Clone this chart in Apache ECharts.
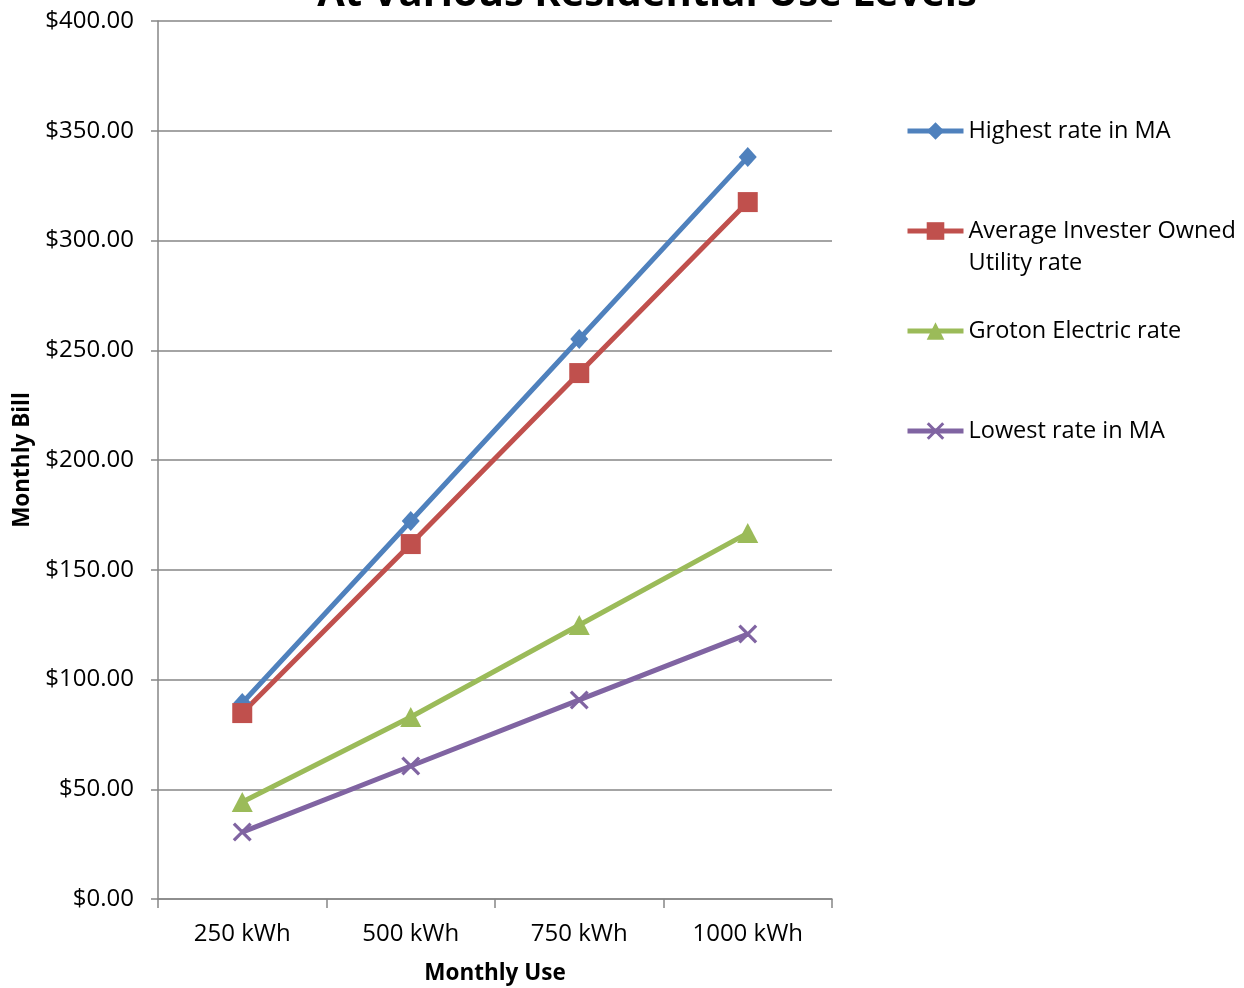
<!DOCTYPE html>
<html>
<head>
<meta charset="utf-8">
<script src="https://cdn.jsdelivr.net/npm/echarts@6/dist/echarts.min.js"></script>
<style>html,body{margin:0;padding:0;background:#fff}#c{width:1244px;height:988px}</style>
</head>
<body>
<div id="c"></div>
<script>
const titleText = 'At Various Residential Use Levels';
const categories = ['250 kWh', '500 kWh', '750 kWh', '1000 kWh'];
const seriesNames = ['Highest rate in MA', 'Average Invester Owned Utility rate', 'Groton Electric rate', 'Lowest rate in MA'];
const highest = [89.3, 172.2, 255.1, 338.0];
const average = [84.7, 161.7, 239.6, 317.5];
const groton = [44.2, 82.9, 124.8, 166.7];
const lowest = [30.5, 60.6, 90.7, 120.7];
const yTicks = { min: 0, max: 400, interval: 50 };
const xName = 'Monthly Use';
const yName = 'Monthly Bill';

const FONT = 'Open Sans';
const colors = ['#4F81BD', '#C0504D', '#9BBB59', '#8064A2'];
const symbols = ['diamond', 'rect', 'triangle', 'path://M0,1.2L1.2,0L10,8.8L8.8,10ZM8.8,0L10,1.2L1.2,10L0,8.8Z'];
const symSizes = [[18, 20], 20, [21, 20], 19];
const dataArr = [highest, average, groton, lowest];

const chart = echarts.init(document.getElementById('c'));
const LH = 32;
const legendCenters = [131, 231, 331, 431];
const legends = seriesNames.map((n, i) => {
  const multi = n === 'Average Invester Owned Utility rate';
  const h = multi ? LH * 3 : LH;
  return {
    data: [n],
    orient: 'vertical',
    left: 900,
    top: legendCenters[i] - h / 2 - 5,
    itemWidth: 56,
    itemHeight: 22,
    itemGap: 0,
    selectedMode: false,
    formatter: (name) => multi ? '\nAverage Invester Owned\nUtility rate' : name,
    lineStyle: { width: 5 },
    textStyle: { fontFamily: FONT, fontSize: 23.5, color: '#000', lineHeight: LH }
  };
});

chart.setOption({
  animation: false,
  title: {
    text: titleText, left: 642, textAlign: 'center', top: -30,
    textStyle: { fontFamily: FONT, fontWeight: 'bold', fontSize: 40, color: '#000' }
  },
  legend: legends,
  grid: { left: 158, right: 412, top: 21, bottom: 89, containLabel: false, outerBoundsMode: 'none' },
  xAxis: {
    type: 'category', data: categories, boundaryGap: true,
    name: xName, nameLocation: 'middle', nameGap: 63,
    nameTextStyle: { fontFamily: FONT, fontWeight: 'bold', fontSize: 22.5, color: '#000' },
    axisLine: { lineStyle: { color: '#868686', width: 1.5 } },
    axisTick: { show: true, length: 9, lineStyle: { color: '#868686', width: 1.5 }, alignWithLabel: false },
    axisLabel: { fontFamily: FONT, fontSize: 24, color: '#000', margin: 23 },
    splitLine: { show: false }
  },
  yAxis: {
    type: 'value', min: yTicks.min, max: yTicks.max, interval: yTicks.interval,
    name: yName, nameLocation: 'middle', nameGap: 124, nameRotate: 90,
    nameTextStyle: { fontFamily: FONT, fontWeight: 'bold', fontSize: 22.5, color: '#000' },
    axisLine: { show: true, lineStyle: { color: '#868686', width: 1.5 } },
    axisTick: { show: true, length: 7, lineStyle: { color: '#868686', width: 1.5 } },
    axisLabel: { fontFamily: FONT, fontSize: 24, color: '#000', margin: 24, formatter: v => '$' + v.toFixed(2) },
    splitLine: { show: true, lineStyle: { color: '#868686', width: 1.5 } }
  },
  series: seriesNames.map((n, i) => ({
    name: n, type: 'line', data: dataArr[i],
    symbol: symbols[i], symbolSize: symSizes[i], showSymbol: true,
    lineStyle: { color: colors[i], width: 5 },
    itemStyle: { color: colors[i], borderWidth: 0 },
    emphasis: { disabled: true }
  }))
});
</script>
</body>
</html>
